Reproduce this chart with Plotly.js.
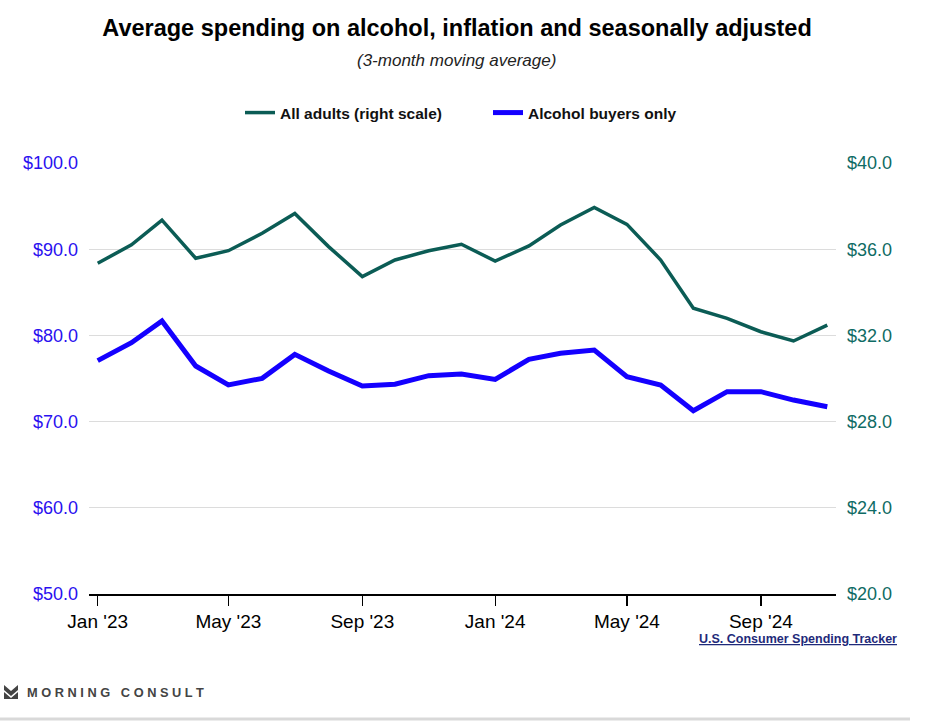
<!DOCTYPE html>
<html>
<head>
<meta charset="utf-8">
<script src="https://cdn.plot.ly/plotly-3.0.1.min.js"></script>
<style>
html,body{margin:0;padding:0;background:#fff;}
#chart{width:929px;height:728px;}
</style>
</head>
<body>
<div id="chart"></div>
<script>
const months = ["2023-01-01","2023-02-01","2023-03-01","2023-04-01","2023-05-01","2023-06-01","2023-07-01","2023-08-01","2023-09-01","2023-10-01","2023-11-01","2023-12-01","2024-01-01","2024-02-01","2024-03-01","2024-04-01","2024-05-01","2024-06-01","2024-07-01","2024-08-01","2024-09-01","2024-10-01","2024-11-01"];
const allAdults = [35.35,36.2,37.35,35.58,35.93,36.74,37.66,36.12,34.73,35.5,35.93,36.23,35.45,36.15,37.12,37.94,37.15,35.5,33.26,32.79,32.17,31.74,32.48];
const buyersOnly = [77.07,79.15,81.67,76.45,74.25,75.02,77.8,75.87,74.13,74.33,75.33,75.52,74.9,77.23,77.92,78.3,75.21,74.25,71.27,73.47,73.47,72.5,71.73];
const xTickVals = ["2023-01-01","2023-05-01","2023-09-01","2024-01-01","2024-05-01","2024-09-01"];
const xTickText = ["Jan '23","May '23","Sep '23","Jan '24","May '24","Sep '24"];
const leftTicks = [50,60,70,80,90,100];
const rightTicks = [20,24,28,32,36,40];

const green = "#0b5c55";
const blue = "#1400ff";
const font = "Liberation Sans, Arial, sans-serif";

const traces = [
  {x: months, y: allAdults, name: "All adults (right scale)", type: "scatter", mode: "lines",
   yaxis: "y2", line: {color: green, width: 3.5}},
  {x: months, y: buyersOnly, name: "Alcohol buyers only", type: "scatter", mode: "lines",
   yaxis: "y", line: {color: blue, width: 5}}
];

const px = v => (v - 89) / 747;
const py = v => (594 - v) / 431;

const layout = {
  width: 929, height: 728,
  margin: {l: 89, r: 93, t: 163, b: 134},
  paper_bgcolor: "#fff", plot_bgcolor: "#fff",
  font: {family: font, color: "#000"},
  hovermode: false,
  showlegend: true,
  title: {text: "<b>Average spending on alcohol, inflation and seasonally adjusted</b>",
          font: {size: 23.5, color: "#000", family: font},
          x: 0.492, xanchor: "center", y: 1 - 28/728, yanchor: "middle"},
  legend: {orientation: "h", x: px(240), xanchor: "left", y: 1.116, yanchor: "middle",
           font: {size: 15.5, color: "#111", family: font, weight: "bold"}, traceorder: "normal",
           itemwidth: 30, tracegroupgap: 0, entrywidth: 203},
  xaxis: {type: "date", range: ["2022-12-24", "2024-11-09"],
          tickvals: xTickVals, ticktext: xTickText,
          ticks: "outside", ticklen: 10, tickcolor: "#000", tickwidth: 1.3,
          showline: true, linecolor: "#000", linewidth: 1.5,
          showgrid: false, zeroline: false,
          tickfont: {size: 19, color: "#000", family: font}},
  yaxis: {range: [50, 100], tickvals: leftTicks, tickformat: "$.1f",
          showgrid: true, gridcolor: "#dcdcdc", gridwidth: 1.3, zeroline: false,
          showline: false, ticks: "", ticklabelstandoff: 10,
          tickfont: {size: 18, color: "#2a10f0", family: font}},
  yaxis2: {range: [20, 40], tickvals: rightTicks, tickformat: "$.1f",
           overlaying: "y", side: "right", showgrid: false, zeroline: false,
           showline: false, ticks: "", ticklabelstandoff: 10,
           tickfont: {size: 18, color: "#0f6b64", family: font}},
  annotations: [
    {text: "<i>(3-month moving average)</i>", xref: "paper", yref: "paper",
     x: 0.492, y: py(60), xanchor: "center", yanchor: "middle", showarrow: false,
     font: {size: 17, color: "#222", family: font}},
    {text: "<b><u>U.S. Consumer Spending Tracker</u></b>", xref: "paper", yref: "paper",
     x: px(899), y: py(639), xanchor: "right", yanchor: "middle", showarrow: false,
     font: {size: 12.5, color: "#1f2a7a", family: font}},
    {text: "<b>M O R N I N G   C O N S U L T</b>", xref: "paper", yref: "paper",
     x: px(25), y: py(692), xanchor: "left", yanchor: "middle", showarrow: false,
     font: {size: 12.8, color: "#444", family: font}}
  ],
  shapes: [
    {type: "path", xref: "paper", yref: "paper", layer: "above",
     path: "M " + px(4) + "," + py(685) + " L " + px(11) + "," + py(691) +
           " L " + px(18) + "," + py(685) + " L " + px(18) + "," + py(690) +
           " L " + px(11) + "," + py(696) + " L " + px(4) + "," + py(690) + " Z",
     fillcolor: "#444", line: {width: 0}},
    {type: "path", xref: "paper", yref: "paper", layer: "above",
     path: "M " + px(4) + "," + py(692) + " L " + px(11) + "," + py(698) +
           " L " + px(18) + "," + py(692) + " L " + px(18) + "," + py(699) +
           " L " + px(4) + "," + py(699) + " Z",
     fillcolor: "#444", line: {width: 0}},
    {type: "line", xref: "paper", yref: "paper",
     x0: px(0), x1: px(910), y0: py(719), y1: py(719),
     line: {color: "#d9d9d9", width: 3}}
  ]
};

Plotly.newPlot("chart", traces, layout, {displayModeBar: false, staticPlot: true});
</script>
</body>
</html>
